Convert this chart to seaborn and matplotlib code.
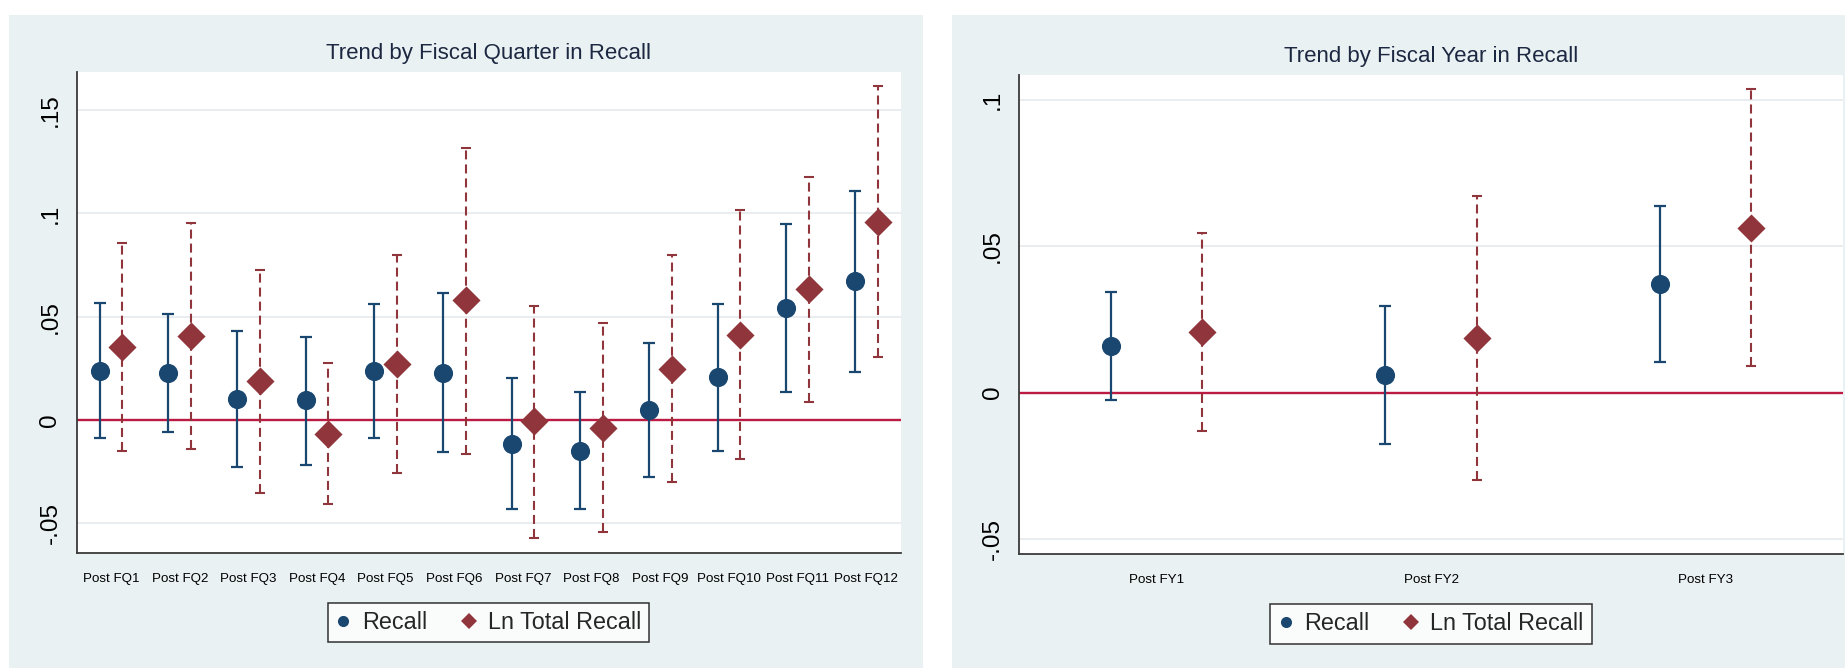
import matplotlib
matplotlib.use("Agg")
import matplotlib.pyplot as plt
from matplotlib import font_manager
from matplotlib.patches import Rectangle
from matplotlib.lines import Line2D
import numpy as np
import pandas as pd
import seaborn as sns

# ---- estimates: fiscal-quarter model ----
quarter_labels = ["Post FQ1", "Post FQ2", "Post FQ3", "Post FQ4", "Post FQ5", "Post FQ6",
                  "Post FQ7", "Post FQ8", "Post FQ9", "Post FQ10", "Post FQ11", "Post FQ12"]
quarter_recall = [0.0239, 0.0226, 0.0102, 0.0095, 0.0237, 0.0229,
                  -0.0116, -0.0150, 0.0048, 0.0208, 0.0542, 0.0671]
quarter_recall_lo = [-0.0089, -0.0060, -0.0229, -0.0216, -0.0085, -0.0153,
                     -0.0432, -0.0432, -0.0277, -0.0150, 0.0137, 0.0231]
quarter_recall_hi = [0.0565, 0.0511, 0.0432, 0.0403, 0.0561, 0.0613,
                     0.0202, 0.0134, 0.0373, 0.0563, 0.0947, 0.1110]
quarter_ln = [0.0352, 0.0406, 0.0189, -0.0068, 0.0269, 0.0579,
              -0.0005, -0.0037, 0.0248, 0.0413, 0.0632, 0.0958]
quarter_ln_lo = [-0.0148, -0.0142, -0.0352, -0.0408, -0.0255, -0.0165,
                 -0.0573, -0.0544, -0.0300, -0.0190, 0.0085, 0.0305]
quarter_ln_hi = [0.0857, 0.0953, 0.0726, 0.0274, 0.0798, 0.1319,
                 0.0553, 0.0468, 0.0797, 0.1015, 0.1176, 0.1616]
quarter_yticks = [-0.05, 0.0, 0.05, 0.10, 0.15]
quarter_yticklabels = ["-.05", "0", ".05", ".1", ".15"]

# ---- estimates: fiscal-year model ----
year_labels = ["Post FY1", "Post FY2", "Post FY3"]
year_recall = [0.0159, 0.0062, 0.0371]
year_recall_lo = [-0.0025, -0.0175, 0.0106]
year_recall_hi = [0.0343, 0.0297, 0.0639]
year_ln = [0.0206, 0.0188, 0.0564]
year_ln_lo = [-0.0132, -0.0297, 0.0091]
year_ln_hi = [0.0546, 0.0671, 0.1037]
year_yticks = [-0.05, 0.0, 0.05, 0.10]
year_yticklabels = ["-.05", "0", ".05", ".1"]

series_names = ["Recall", "Ln Total Recall"]

# ---- style ----
sns.set_style("white")
available = {f.name for f in font_manager.fontManager.ttflist}
main_font = "Liberation Sans Narrow" if "Liberation Sans Narrow" in available else "Liberation Sans"
plt.rcParams["font.family"] = [main_font, "DejaVu Sans"]
plt.rcParams["lines.scale_dashes"] = False

NAVY = "#1a476f"
MAROON = "#90353b"
ZERO_RED = "#bb1a42"
PANEL_BG = "#eaf1f3"
GRID_C = "#eaedef"
SPINE_C = "#3a3a3a"
TITLE_C = "#1c2841"
OFFSET = 1 / 6

W, H = 1845, 668
fig = plt.figure(figsize=(W / 100, H / 100), dpi=100)
fig.patch.set_facecolor("white")

# light graph-region backgrounds behind each panel
for x0, x1 in [(9, 923), (952, 1845)]:
    fig.add_artist(Rectangle((x0 / W, 0), (x1 - x0) / W, (H - 15) / H,
                             transform=fig.transFigure, facecolor=PANEL_BG,
                             edgecolor="none", zorder=0))


def px_axes(left, right, top, bottom):
    return fig.add_axes([left / W, (H - bottom) / H, (right - left) / W, (bottom - top) / H])


def draw_panel(ax, labels, rec, rec_lo, rec_hi, ln, ln_lo, ln_hi,
               yticks, yticklabels, ylim, title):
    pos = np.arange(1, len(labels) + 1)
    rec, rec_lo, rec_hi = map(np.asarray, (rec, rec_lo, rec_hi))
    ln, ln_lo, ln_hi = map(np.asarray, (ln, ln_lo, ln_hi))

    df = pd.DataFrame({
        "x": np.r_[pos - OFFSET, pos + OFFSET],
        "coef": np.r_[rec, ln],
        "series": [series_names[0]] * len(pos) + [series_names[1]] * len(pos),
    })

    ax.set_facecolor("white")
    ax.axhline(0, color=ZERO_RED, lw=1.7, zorder=2)

    ax.errorbar(pos - OFFSET, rec, yerr=[rec - rec_lo, rec_hi - rec], fmt="none",
                ecolor=NAVY, elinewidth=1.6, capsize=4.3, capthick=1.6, zorder=3)
    eb = ax.errorbar(pos + OFFSET, ln, yerr=[ln - ln_lo, ln_hi - ln], fmt="none",
                     ecolor=MAROON, elinewidth=1.5, capsize=3.6, capthick=1.5, zorder=3)
    for coll in eb[2]:
        coll.set_linestyle((0, (6.5, 3.6)))

    sns.scatterplot(data=df[df["series"] == series_names[0]], x="x", y="coef",
                    color=NAVY, marker="o", s=190, linewidth=0, legend=False,
                    ax=ax, zorder=4)
    sns.scatterplot(data=df[df["series"] == series_names[1]], x="x", y="coef",
                    color=MAROON, marker="D", s=205, linewidth=0, legend=False,
                    ax=ax, zorder=4)

    ax.set_xlim(0.5, len(labels) + 0.5)
    ax.set_ylim(*ylim)
    ax.set_xticks(pos)
    ax.set_xticklabels(labels, fontsize=9.6)
    ax.set_yticks(yticks)
    ax.set_yticklabels(yticklabels, fontsize=17.5, rotation=90, va="center")
    ax.set_xlabel("")
    ax.set_ylabel("")

    ax.yaxis.grid(True, color=GRID_C, lw=1.4)
    ax.xaxis.grid(False)
    ax.set_axisbelow(True)

    for side in ("top", "right"):
        ax.spines[side].set_visible(False)
    for side in ("left", "bottom"):
        ax.spines[side].set_color(SPINE_C)
        ax.spines[side].set_linewidth(1.3)
    ax.tick_params(axis="x", direction="inout", length=9, width=1.2, color=SPINE_C,
                   pad=10, labelcolor="black")
    ax.tick_params(axis="y", direction="out", length=7, width=1.2, color=SPINE_C,
                   pad=4, labelcolor="black")

    ax.set_title(title, fontsize=16, color=TITLE_C, pad=9)


ax1 = px_axes(76.7, 900.7, 71.7, 552.7)
draw_panel(ax1, quarter_labels, quarter_recall, quarter_recall_lo, quarter_recall_hi,
           quarter_ln, quarter_ln_lo, quarter_ln_hi,
           quarter_yticks, quarter_yticklabels, (-0.0642, 0.1686),
           "Trend by Fiscal Quarter in Recall")

ax2 = px_axes(1019.3, 1843, 75, 554)
draw_panel(ax2, year_labels, year_recall, year_recall_lo, year_recall_hi,
           year_ln, year_ln_lo, year_ln_hi,
           year_yticks, year_yticklabels, (-0.0551, 0.1085),
           "Trend by Fiscal Year in Recall")

handles = [
    Line2D([], [], ls="none", marker="o", ms=8, color=NAVY, mew=0),
    Line2D([], [], ls="none", marker="D", ms=8, color=MAROON, mew=0),
]
for cx, cy in [(488.7, 622.5), (1431, 624)]:
    leg = fig.legend(handles, series_names, loc="center",
                     bbox_to_anchor=(cx / W, (H - cy) / H), ncol=2,
                     frameon=True, fancybox=False, shadow=False,
                     fontsize=16.8, handlelength=0.6, handletextpad=0.5,
                     columnspacing=1.5, borderpad=0.35, borderaxespad=0)
    leg.get_frame().set_edgecolor("black")
    leg.get_frame().set_linewidth(1.1)
    leg.get_frame().set_facecolor("white")

fig.savefig("out.png", dpi=100, facecolor="white")
